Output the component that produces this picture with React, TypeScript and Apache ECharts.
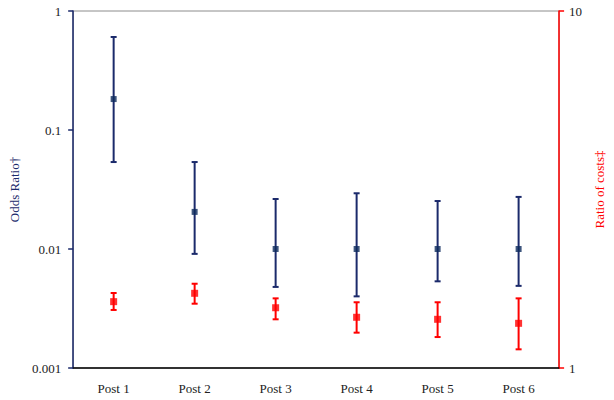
import React, { useEffect, useRef } from "react";
import * as echarts from "echarts";

const categories = ["Post 1", "Post 2", "Post 3", "Post 4", "Post 5", "Post 6"];
const oddsRatio = [0.182, 0.0205, 0.01, 0.01, 0.01, 0.01];
const oddsLow = [0.0538, 0.0091, 0.0048, 0.0040, 0.00535, 0.0049];
const oddsHigh = [0.605, 0.0538, 0.0263, 0.0294, 0.0253, 0.0274];
const costRatio = [1.534, 1.619, 1.475, 1.387, 1.369, 1.334];
const costLow = [1.454, 1.514, 1.369, 1.256, 1.221, 1.128];
const costHigh = [1.622, 1.722, 1.567, 1.528, 1.528, 1.567];

const NAVY = "#1b2a6b";
const NAVY_MARK = "#0d2a5c";
const RED = "#ff0000";
const FONT = "Liberation Serif";

function errorRender(color: string, cap: number) {
  return (params: any, api: any) => {
    const i = api.value(0);
    const lo = api.coord([i, api.value(1)]);
    const hi = api.coord([i, api.value(2)]);
    const style = { stroke: color, lineWidth: 2 };
    return {
      type: "group",
      children: [
        { type: "line", shape: { x1: lo[0], y1: lo[1], x2: hi[0], y2: hi[1] }, style },
        { type: "line", shape: { x1: lo[0] - cap, y1: lo[1], x2: lo[0] + cap, y2: lo[1] }, style },
        { type: "line", shape: { x1: hi[0] - cap, y1: hi[1], x2: hi[0] + cap, y2: hi[1] }, style },
      ],
    };
  };
}

export default function App() {
  const ref = useRef<HTMLDivElement>(null);
  useEffect(() => {
    const chart = echarts.init(ref.current!, null, { renderer: "svg" });
    chart.setOption({
      animation: false,
      textStyle: { fontFamily: FONT },
      grid: {
        left: 64,
        right: 46,
        top: 11,
        bottom: 32,
        show: true,
        borderColor: "#8c8c8c",
        borderWidth: 1,
      },
      xAxis: {
        type: "category",
        data: categories,
        axisLine: { lineStyle: { color: "#000", width: 1.5 } },
        axisTick: { show: false },
        axisLabel: { color: "#222", fontSize: 13, fontFamily: FONT, margin: 14 },
      },
      yAxis: [
        {
          type: "log",
          logBase: 10,
          min: 0.001,
          max: 1,
          position: "left",
          name: "Odds Ratio\u2020",
          nameLocation: "middle",
          nameRotate: 90,
          nameGap: 52,
          nameTextStyle: { color: NAVY, fontSize: 13, fontFamily: FONT },
          axisLine: { show: true, lineStyle: { color: NAVY, width: 1.5 } },
          axisTick: { show: true, length: 5, lineStyle: { color: NAVY, width: 1.5 } },
          splitLine: { show: false },
          minorTick: { show: false },
          axisLabel: {
            color: "#222",
            fontSize: 13,
            fontFamily: FONT,
            margin: 12,
            formatter: (v: number) => String(parseFloat(v.toPrecision(3))),
          },
        },
        {
          type: "log",
          logBase: 10,
          min: 1,
          max: 10,
          position: "right",
          name: "Ratio of costs\u2021",
          nameLocation: "middle",
          nameRotate: 90,
          nameGap: 30,
          nameTextStyle: { color: RED, fontSize: 13, fontFamily: FONT },
          axisLine: { show: true, lineStyle: { color: RED, width: 1.5 } },
          axisTick: { show: true, length: 5, lineStyle: { color: RED, width: 1.5 } },
          splitLine: { show: false },
          axisLabel: {
            color: "#222",
            fontSize: 13,
            fontFamily: FONT,
            margin: 10,
            formatter: (v: number) => String(Math.round(v)),
          },
        },
      ],
      series: [
        {
          type: "custom",
          yAxisIndex: 0,
          z: 2,
          renderItem: errorRender(NAVY, 3),
          data: categories.map((_, i) => [i, oddsLow[i], oddsHigh[i]]),
        },
        {
          type: "custom",
          yAxisIndex: 1,
          z: 2,
          renderItem: errorRender(RED, 3),
          data: categories.map((_, i) => [i, costLow[i], costHigh[i]]),
        },
        {
          type: "scatter",
          yAxisIndex: 0,
          z: 3,
          symbol: "rect",
          symbolSize: 6,
          itemStyle: { color: NAVY_MARK },
          data: oddsRatio.map((v, i) => [i, v]),
        },
        {
          type: "scatter",
          yAxisIndex: 1,
          z: 3,
          symbol: "rect",
          symbolSize: 7,
          itemStyle: { color: RED },
          data: costRatio.map((v, i) => [i, v]),
        },
      ],
    });
    return () => chart.dispose();
  }, []);
  return (
    <div
      ref={ref}
      style={{ position: "fixed", left: 0, top: 0, width: 614, height: 400, background: "#fff" }}
    />
  );
}
